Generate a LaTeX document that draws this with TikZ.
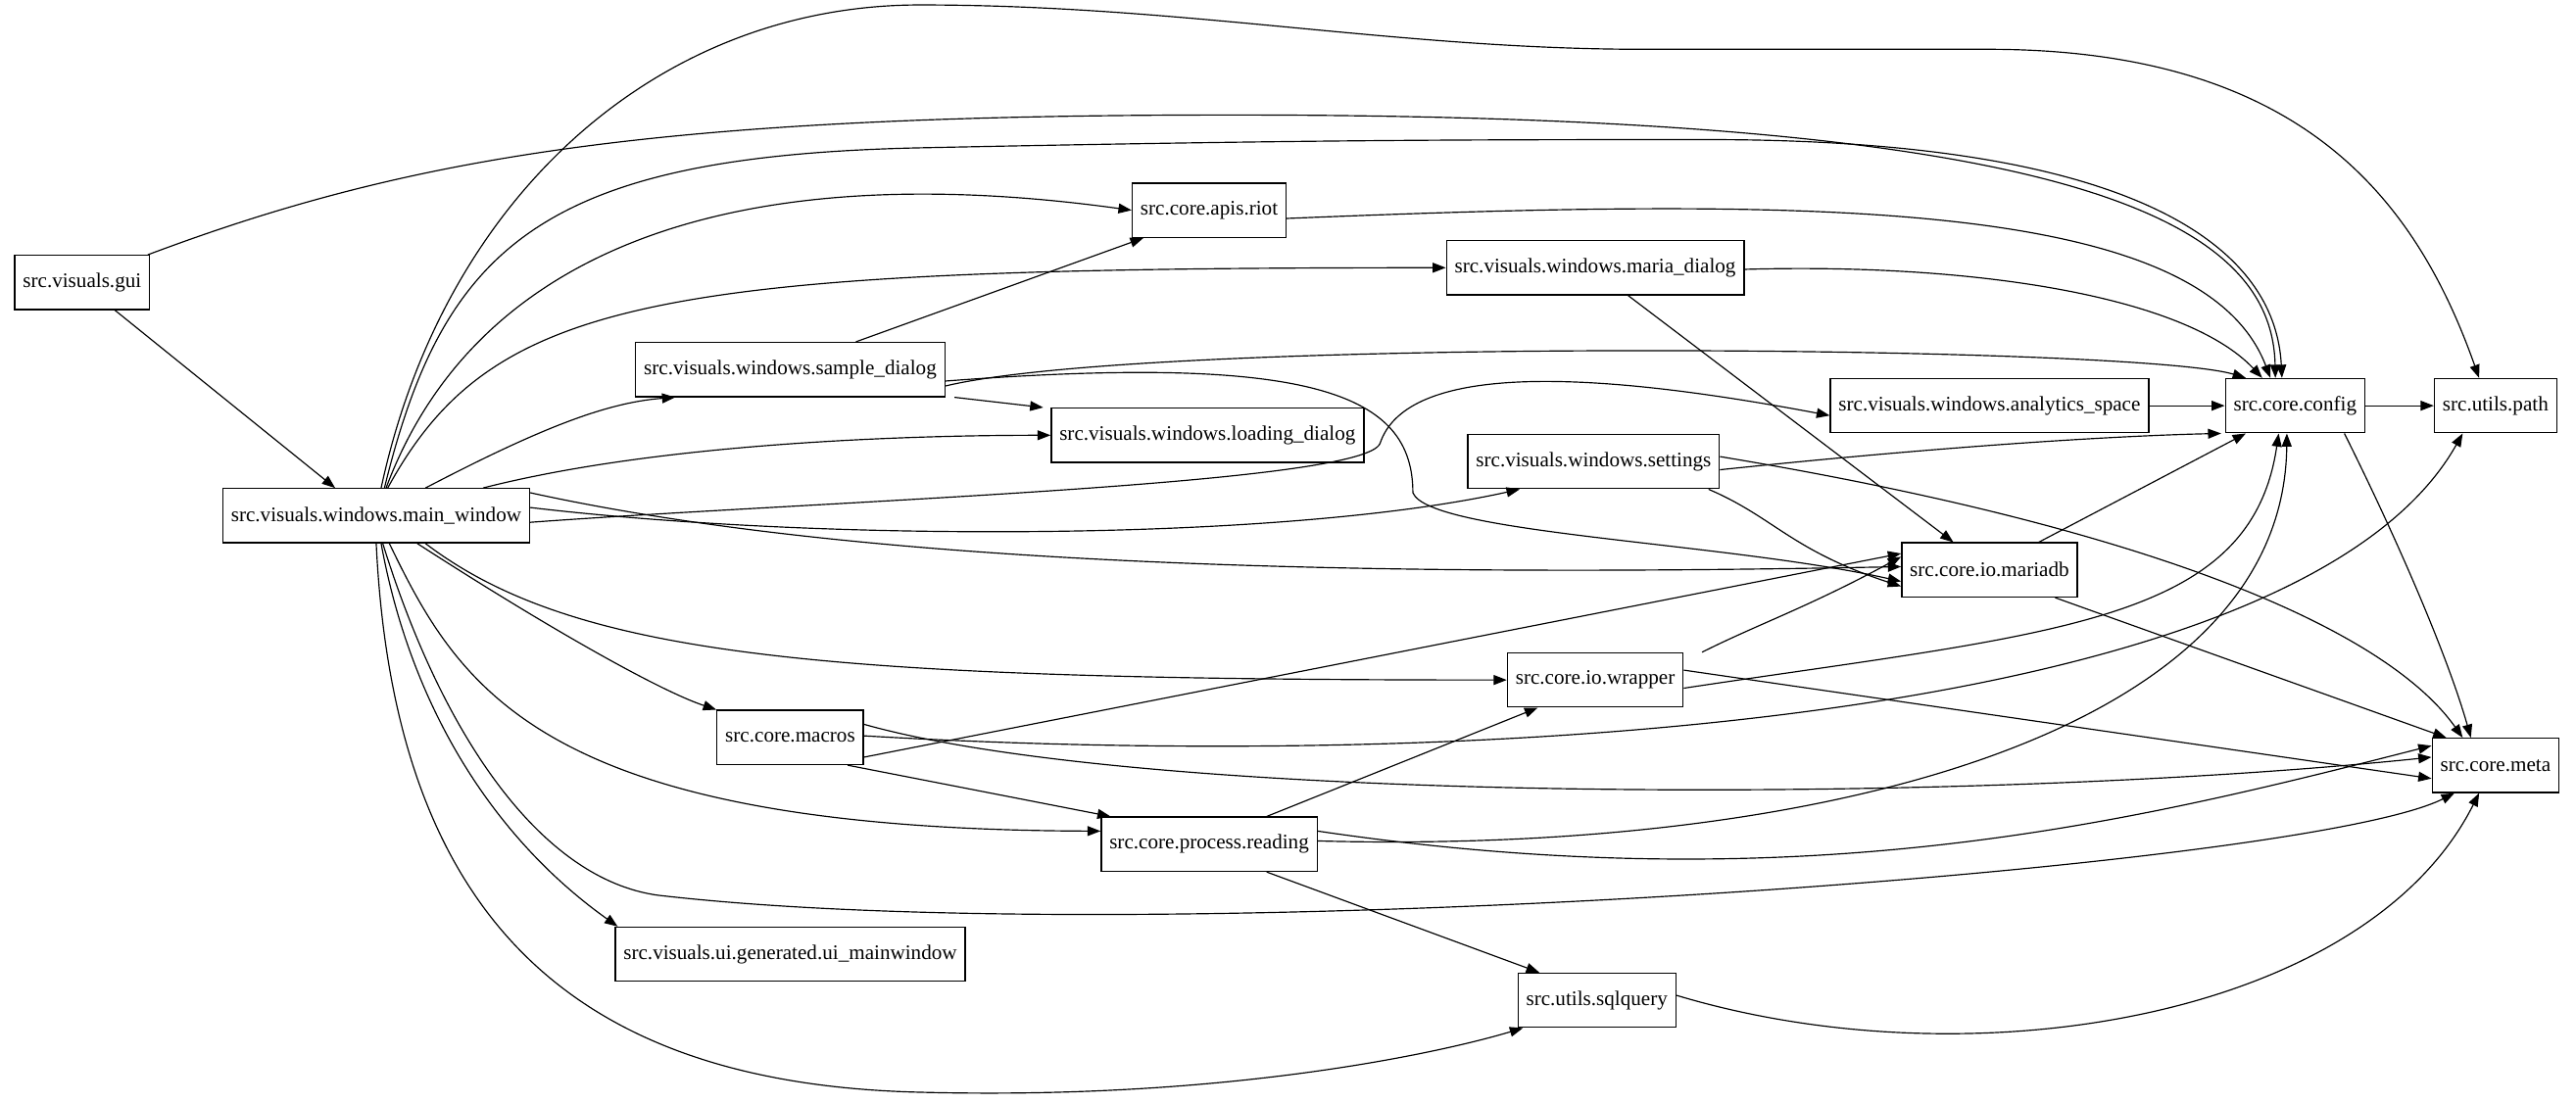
\documentclass[tikz,border=0pt]{standalone}
\usepackage{fontspec}
\setmainfont{Liberation Serif}
\usetikzlibrary{arrows.meta}
\begin{document}
\begin{tikzpicture}[x=1pt,y=-1pt,
  box/.style={draw,line width=0.8pt,minimum height=33pt,inner xsep=5pt,font=\fontsize{12.6}{14}\selectfont},
  e/.style={draw,line width=0.7pt,-{Triangle[length=8pt,width=6pt]}}]
\useasboundingbox (0,0) rectangle (1568,672);
\node[box] (gui) at (50,172) {src.visuals.gui};
\node[box] (mw) at (229,314) {src.visuals.windows.main\_window};
\node[box] (riot) at (736,128) {src.core.apis.riot};
\node[box] (maria) at (971,163) {src.visuals.windows.maria\_dialog};
\node[box] (sample) at (481,225) {src.visuals.windows.sample\_dialog};
\node[box] (loading) at (735,265) {src.visuals.windows.loading\_dialog};
\node[box] (analytics) at (1211,247) {src.visuals.windows.analytics\_space};
\node[box] (config) at (1397,247) {src.core.config};
\node[box] (path) at (1519,247) {src.utils.path};
\node[box] (settings) at (970,281) {src.visuals.windows.settings};
\node[box] (mariadb) at (1211,347) {src.core.io.mariadb};
\node[box] (wrapper) at (971,414) {src.core.io.wrapper};
\node[box] (macros) at (481,449) {src.core.macros};
\node[box] (meta) at (1519,466) {src.core.meta};
\node[box] (reading) at (736,514) {src.core.process.reading};
\node[box] (ui) at (481,581) {src.visuals.ui.generated.ui\_mainwindow};
\node[box] (sql) at (972,609) {src.utils.sqlquery};

\path[e] ([xshift=20]gui.south) -- ([xshift=-25]mw.north);
\path[e] ([xshift=40]gui.north) .. controls (250,95) and (400,70) .. (750,70) .. controls (1250,70) and (1383,130) .. ([xshift=-12]config.north);
\path[e] ([xshift=3]mw.north) .. controls (270,120) and (400,3) .. (560,3) .. controls (720,3) and (850,30) .. (1000,30) -- (1210,30) .. controls (1400,30) and (1470,120) .. ([xshift=-10]path.north);
\path[e] ([xshift=5]mw.north) .. controls (270,150) and (330,95) .. (560,90) .. controls (800,85) and (900,85) .. (1040,85) .. controls (1300,85) and (1385,150) .. ([xshift=-8]config.north);
\path[e] ([xshift=6]mw.north) .. controls (290,150) and (450,95) .. (riot.west);
\path[e] ([xshift=7]mw.north) .. controls (300,180) and (400,163) .. (maria.west);
\path[e] ([xshift=30]mw.north) .. controls (330,260) and (370,245) .. ([xshift=-70]sample.south);
\path[e] ([xshift=65]mw.north) .. controls (400,270) and (550,265) .. (loading.west);
\path[e] ([yshift=-4]mw.east) .. controls (500,305) and (830,295) .. (840,270) .. controls (855,225) and (950,222) .. ([yshift=-6]analytics.west);
\path[e] ([yshift=5]mw.east) .. controls (500,330) and (780,330) .. ([xshift=-45]settings.south);
\path[e] ([yshift=14]mw.east) .. controls (550,350) and (900,350) .. ([yshift=2]mariadb.west);
\path[e] ([xshift=30]mw.south) .. controls (350,400) and (500,414) .. (wrapper.west);
\path[e] ([xshift=25]mw.south) .. controls (330,380) and (400,420) .. ([xshift=-45]macros.north);
\path[e] ([xshift=8]mw.south) .. controls (280,420) and (330,505) .. ([yshift=8]reading.west);
\path[e] ([xshift=4]mw.south) .. controls (270,450) and (330,535) .. (400,545) .. controls (700,580) and (1400,530) .. ([xshift=-25]meta.south);
\path[e] ([xshift=3]mw.south) .. controls (250,430) and (300,510) .. ([xshift=-105]ui.north);
\path[e] ([xshift=0]mw.south) .. controls (240,560) and (350,660) .. (560,665) .. controls (750,670) and (880,640) .. ([xshift=-45]sql.south);
\path[e] ([xshift=40]sample.north) -- ([xshift=-40]riot.south);
\path[e] ([xshift=100]sample.south) -- ([xshift=-100]loading.north);
\path[e] ([yshift=-10]sample.east) .. controls (700,205) and (1300,210) .. ([xshift=-30]config.north);
\path[e] ([yshift=-7]sample.east) .. controls (800,215) and (860,240) .. (860,300) .. controls (870,325) and (1050,330) .. ([yshift=-7]mariadb.west);
\path[e] ([yshift=-5]riot.east) .. controls (1100,120) and (1340,120) .. ([xshift=-15]config.north);
\path[e] ([yshift=-1]maria.east) .. controls (1200,160) and (1330,180) .. ([xshift=-20]config.north);
\path[e] ([xshift=20]maria.south) -- ([xshift=-22]mariadb.north);
\path[e] (analytics.east) -- (config.west);
\path[e] (config.east) -- (path.west);
\path[e] ([xshift=30]config.south) .. controls (1460,330) and (1490,400) .. ([xshift=-15]meta.north);
\path[e] ([yshift=-5]settings.east) .. controls (1200,270) and (1300,265) .. ([xshift=-45]config.south);
\path[e] ([xshift=70]settings.south) .. controls (1080,315) and (1090,335) .. ([yshift=-10]mariadb.west);
\path[e] ([yshift=3]settings.east) .. controls (1300,320) and (1450,380) .. ([xshift=-20]meta.north);
\path[e] ([xshift=30]mariadb.north) -- ([xshift=-30]config.south);
\path[e] ([xshift=40]mariadb.south) -- ([xshift=-30]meta.north);
\path[e] ([xshift=65]wrapper.north) .. controls (1070,380) and (1100,370) .. ([yshift=8]mariadb.west);
\path[e] ([yshift=-5]wrapper.east) .. controls (1250,385) and (1370,380) .. ([xshift=-10]config.south);
\path[e] ([yshift=6]wrapper.east) -- ([yshift=-8]meta.west);
\path[e] ([yshift=-12]macros.east) -- ([yshift=10]mariadb.west);
\path[e] ([yshift=1]macros.east) .. controls (900,470) and (1400,440) .. ([xshift=-20]path.south);
\path[e] ([yshift=8]macros.east) .. controls (700,490) and (1200,490) .. ([yshift=5]meta.west);
\path[e] ([xshift=35]macros.south) -- ([xshift=-60]reading.north);
\path[e] ([xshift=35]reading.north) -- ([xshift=-35]wrapper.south);
\path[e] ([yshift=2]reading.east) .. controls (1100,520) and (1390,450) .. ([xshift=-5]config.south);
\path[e] ([yshift=8]reading.east) .. controls (1100,550) and (1300,500) .. ([yshift=12]meta.west);
\path[e] ([xshift=35]reading.south) -- ([xshift=-35]sql.north);
\path[e] ([yshift=3]sql.east) .. controls (1200,660) and (1440,620) .. ([xshift=-10]meta.south);
\end{tikzpicture}
\end{document}
